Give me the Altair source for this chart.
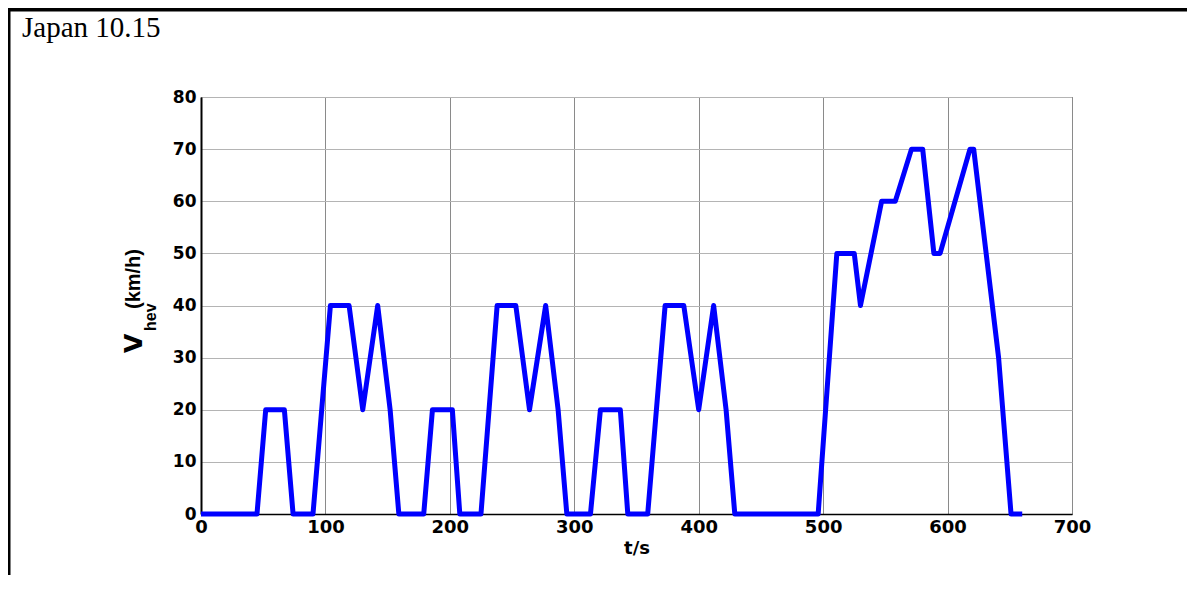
import altair as alt
import pandas as pd

# Speed profile (Japan 10.15 cycle)
t_s = [0, 45, 52, 67, 74, 90, 104, 119, 130, 142, 152, 159,
       179, 186, 202, 208, 225, 238, 253, 264, 277, 287, 294,
       313, 321, 337, 343, 359, 373, 388, 400, 412, 422, 429,
       496, 511, 525, 530, 547, 558, 571, 580, 589, 594, 618, 621, 641, 651, 660]
v_kmh = [0, 0, 20, 20, 0, 0, 40, 40, 20, 40, 20, 0,
         0, 20, 20, 0, 0, 40, 40, 20, 40, 20, 0,
         0, 20, 20, 0, 0, 40, 40, 20, 40, 20, 0,
         0, 50, 50, 40, 60, 60, 70, 70, 50, 50, 70, 70, 30, 0, 0]

x_ticks = [0, 100, 200, 300, 400, 500, 600, 700]
y_ticks = [0, 10, 20, 30, 40, 50, 60, 70, 80]

df = pd.DataFrame({"t": t_s, "v": v_kmh})

W, H = 871, 417
PL, PT, PR, PB = 193, 89, 115, 61

AX_FONT = "DejaVu Sans"
NARROW = "Liberation Sans Narrow, Liberation Sans, Arial, sans-serif"

line = alt.Chart(df).mark_line(
    color="#0000ff", strokeWidth=5, strokeJoin="round", strokeCap="butt"
).encode(
    x=alt.X("t:Q",
            scale=alt.Scale(domain=[0, 700], nice=False, zero=False),
            axis=alt.Axis(values=x_ticks, title="t/s", grid=True,
                          gridColor="#8a8a8a", gridWidth=1,
                          ticks=False, labelPadding=4, labelFlush=False,
                          domainColor="black", domainWidth=1.5,
                          labelFont=AX_FONT, labelFontSize=18, labelFontWeight="bold",
                          labelColor="black",
                          titleFont=AX_FONT, titleFontSize=18, titleFontWeight="bold",
                          titleColor="black", titlePadding=3)),
    y=alt.Y("v:Q",
            scale=alt.Scale(domain=[0, 80], nice=False),
            axis=alt.Axis(values=y_ticks, title=None, grid=True,
                          gridColor="#b4b4b4", gridWidth=1,
                          ticks=False, labelPadding=5, labelFlush=False,
                          domainColor="black", domainWidth=2,
                          labelFont=AX_FONT, labelFontSize=17, labelFontWeight="bold",
                          labelColor="black")),
)

# y-axis title built from pieces: V with subscript "hev", then "(km/h)"
title_v = alt.Chart().mark_text(
    text="V", angle=270, align="left", baseline="alphabetic",
    font=AX_FONT, fontSize=25, fontWeight="bold", color="black"
).encode(x=alt.value(-59), y=alt.value(256))

title_sub = alt.Chart().mark_text(
    text="hev", angle=270, align="left", baseline="alphabetic",
    font=NARROW, fontSize=16, fontWeight="bold", color="black"
).encode(x=alt.value(-45), y=alt.value(234))

title_unit = alt.Chart().mark_text(
    text="(km/h)", angle=270, align="left", baseline="alphabetic",
    font=NARROW, fontSize=20, fontWeight="bold", color="black"
).encode(x=alt.value(-61), y=alt.value(212))

label = alt.Chart().mark_text(
    text="Japan 10.15", align="left", baseline="alphabetic",
    font="Liberation Serif", fontSize=29, color="black"
).encode(x=alt.value(-179), y=alt.value(-60))

top_border = alt.Chart().mark_rule(color="black", strokeWidth=4).encode(
    x=alt.value(-PL), x2=alt.value(W + PR), y=alt.value(-PT + 1.5))
left_border = alt.Chart().mark_rule(color="black", strokeWidth=4).encode(
    x=alt.value(-PL + 0.5), y=alt.value(-PT), y2=alt.value(H + PB))

chart = alt.layer(
    line, title_v, title_sub, title_unit, label, top_border, left_border
).properties(
    width=W, height=H,
    autosize=alt.AutoSizeParams(type="none"),
    padding={"left": PL, "top": PT, "right": PR, "bottom": PB},
    background="white",
).configure_view(
    stroke="black", strokeWidth=1
)

chart.save("out.html", embed_options={"renderer": "svg", "actions": False})
